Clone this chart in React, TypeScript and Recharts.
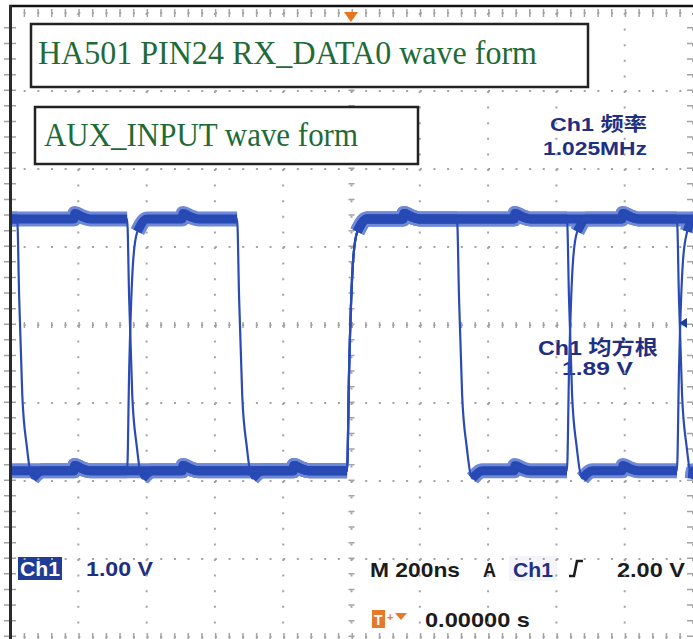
import { LineChart, Line, XAxis, YAxis, CartesianGrid, ReferenceLine } from 'recharts'

// screen: 200 ns/div over 10 divisions, 1 V/div over 8 divisions (0 = screen centre)
const timeTicks = [-1000, -800, -600, -400, -200, 0, 200, 400, 600, 800, 1000]
const voltTicks = [-4, -3, -2, -1, 0, 1, 2, 3, 4]

// logic levels (V from screen centre)
const highLevel = 1.36
const lowLevel = -1.87

// bit boundaries (ns) where the line may switch, and crosstalk bumps mid-bit
const edgeTimes = [-979, -657, -335, -13, 309, 631, 953]
const bumpTimes = [-810, -493, -168, 154, 479, 795]

// three acquisitions left on screen by persistence, one bit per gap
const sweepA = [1, 0, 1, 0, 1, 0, 1, 0]
const sweepB = [1, 1, 0, 0, 1, 1, 0, 1]
const sweepC = [0, 0, 0, 0, 1, 1, 1, 1]

// edge shapes: [ns after the boundary, share of the swing]
const riseShape = [[0, 0], [6, 0.4], [18, 0.84], [30, 0.95], [58, 1]]
const fallShape = [[0, 1], [6, 0.68], [15, 0.3], [28, 0.1], [45, -0.03], [75, 0]]
// bump shape: [ns around the bump, volts added]
const bumpShape = [[-3, 0], [0, 0.07], [20, 0.03], [45, 0]]

interface TracePoint {
  t: number
  v: number
  band: number | null
}

function buildSweep(bits: number[]): TracePoint[] {
  const swing = highLevel - lowLevel
  const level = (b: number) => lowLevel + b * swing
  const pts: TracePoint[] = []
  const first = level(bits[0])
  const last = level(bits[bits.length - 1])
  pts.push({ t: -1000, v: first, band: first })

  edgeTimes.forEach((e, i) => {
    if (bits[i] === bits[i + 1]) return
    const shape = bits[i + 1] > bits[i] ? riseShape : fallShape
    shape.forEach(([dt, share]) => {
      const v = lowLevel + share * swing
      const flat = share <= 0.05 || share >= 0.95
      pts.push({ t: e + dt, v, band: flat ? v : null })
    })
  })

  bumpTimes.forEach((b) => {
    const idx = edgeTimes.filter((e) => e < b).length
    const base = level(bits[idx])
    bumpShape.forEach(([dt, dv]) => {
      pts.push({ t: b + dt, v: base + dv, band: base + dv })
    })
  })

  pts.push({ t: 1000, v: last, band: last })
  return pts.sort((a, b) => a.t - b.t)
}

const sweeps = [sweepA, sweepB, sweepC].map(buildSweep)

const navy = '#1f2f82'
const ink = '#1c1c1c'
const sans = "'Liberation Sans', Arial, 'Noto Sans CJK SC', sans-serif"
const cjk = "'Liberation Sans', 'Noto Sans CJK SC', sans-serif"
const serif = "'Liberation Serif', 'Times New Roman', serif"
const boxGreen = '#1f6b37'

function Readouts() {
  return (
    <svg width={693} height={639} style={{ position: 'absolute', left: 0, top: 0, zIndex: 0 }}>
      <text x={550} y={131} fontFamily={cjk} fontWeight={700} fontSize={19} fill={navy} textLength={97} lengthAdjust="spacingAndGlyphs">
        Ch1 频率
      </text>
      <text x={543} y={155} fontFamily={sans} fontWeight={700} fontSize={19} fill={navy} textLength={104} lengthAdjust="spacingAndGlyphs">
        1.025MHz
      </text>
      <text x={538} y={355} fontFamily={cjk} fontWeight={700} fontSize={20} fill={navy} textLength={120} lengthAdjust="spacingAndGlyphs">
        Ch1 均方根
      </text>
      <text x={562} y={375} fontFamily={sans} fontWeight={700} fontSize={19} fill={navy} textLength={71} lengthAdjust="spacingAndGlyphs">
        1.89 V
      </text>

      <rect x={18} y={557} width={44} height={23} fill="#1f3c96" />
      <text x={20} y={576} fontFamily={sans} fontWeight={700} fontSize={21} fill="#ffffff" textLength={40} lengthAdjust="spacingAndGlyphs">
        Ch1
      </text>
      <text x={86} y={576} fontFamily={sans} fontWeight={700} fontSize={21} fill={navy} textLength={67} lengthAdjust="spacingAndGlyphs">
        1.00 V
      </text>

      <text x={370} y={577} fontFamily={sans} fontWeight={700} fontSize={21} fill={ink} textLength={90} lengthAdjust="spacingAndGlyphs">
        M 200ns
      </text>
      <text x={483} y={577} fontFamily={sans} fontWeight={700} fontSize={21} fill={ink} textLength={13} lengthAdjust="spacingAndGlyphs">
        A
      </text>
      <rect x={509} y={556} width={48} height={25} fill="#f4f4fa" />
      <text x={513} y={577} fontFamily={sans} fontWeight={700} fontSize={21} fill={navy} textLength={40} lengthAdjust="spacingAndGlyphs">
        Ch1
      </text>
      <polyline points="569,576 574,576 577,561 583,561" fill="none" stroke={ink} strokeWidth={2.6} />
      <text x={617} y={577} fontFamily={sans} fontWeight={700} fontSize={21} fill={ink} textLength={68} lengthAdjust="spacingAndGlyphs">
        2.00 V
      </text>

      <rect x={372} y={610} width={13} height={18} fill="#e8782a" />
      <text x={374} y={625} fontFamily={sans} fontWeight={700} fontSize={14} fill="#ffffff">
        T
      </text>
      <text x={387} y={621} fontFamily={sans} fontWeight={700} fontSize={11} fill="#e8782a">
        +
      </text>
      <polygon points="395,613 407,613 401,620" fill="#e8782a" />
      <text x={425} y={627} fontFamily={sans} fontWeight={700} fontSize={21} fill={ink} textLength={105} lengthAdjust="spacingAndGlyphs">
        0.00000 s
      </text>
    </svg>
  )
}

function Overlay() {
  return (
    <svg width={693} height={639} style={{ position: 'absolute', left: 0, top: 0, zIndex: 2, pointerEvents: 'none' }}>
      <line x1={9} y1={6} x2={693} y2={6} stroke="#111" strokeWidth={2.5} />
      <line x1={10.5} y1={5} x2={10.5} y2={639} stroke="#2a2a2a" strokeWidth={3} />
      <polygon points="344,12 358,12 351,22" fill="#e8741c" />
      <polygon points="679,323 687,318 687,328" fill="#1f3c96" />

      <rect x={31} y={24} width={557} height={63} fill="#ffffff" stroke="#222" strokeWidth={2.5} />
      <text x={38} y={64} fontFamily={serif} fontSize={34} fill={boxGreen} textLength={499} lengthAdjust="spacingAndGlyphs">
        HA501 PIN24 RX_DATA0 wave form
      </text>
      <rect x={35} y={107} width={383} height={57} fill="#ffffff" stroke="#222" strokeWidth={2.5} />
      <text x={44} y={146} fontFamily={serif} fontSize={34} fill={boxGreen} textLength={314} lengthAdjust="spacingAndGlyphs">
        AUX_INPUT wave form
      </text>
    </svg>
  )
}

export default function App() {
  const gridColor = '#a3a3a3'
  return (
    <div style={{ position: 'absolute', left: 0, top: 0, width: 693, height: 639, background: '#ffffff', overflow: 'hidden' }}>
      <Readouts />
      <div style={{ position: 'absolute', left: 0, top: 0, zIndex: 1 }}>
        <LineChart width={693} height={639} margin={{ top: 13, right: 0, bottom: 2, left: 10 }}>
          <CartesianGrid horizontal vertical={false} stroke={gridColor} strokeWidth={2} strokeDasharray="2 11.66" />
          <CartesianGrid horizontal={false} vertical stroke={gridColor} strokeWidth={2} strokeDasharray="2 13.6" />
          <XAxis dataKey="t" type="number" domain={[-1000, 1000]} ticks={timeTicks} allowDataOverflow hide />
          <YAxis type="number" domain={[-4, 4]} ticks={voltTicks} allowDataOverflow hide />

          <ReferenceLine y={0} stroke={gridColor} strokeWidth={6} strokeDasharray="1.5 12.16" />
          <ReferenceLine x={0} stroke={gridColor} strokeWidth={6} strokeDasharray="1.5 14.1" />
          <ReferenceLine y={4} stroke={gridColor} strokeWidth={8} strokeDasharray="1.5 12.16" />
          <ReferenceLine y={-4} stroke={gridColor} strokeWidth={8} strokeDasharray="1.5 12.16" />
          <ReferenceLine x={-1000} stroke={gridColor} strokeWidth={12} strokeDasharray="1.5 14.1" />
          <ReferenceLine x={1000} stroke={gridColor} strokeWidth={12} strokeDasharray="1.5 14.1" />

          {sweeps.map((s, i) => (
            <Line
              key={`halo${i}`}
              data={s}
              dataKey="band"
              type="monotone"
              stroke="#6f89d6"
              strokeWidth={15}
              dot={false}
              activeDot={false}
              connectNulls={false}
              isAnimationActive={false}
            />
          ))}
          {sweeps.map((s, i) => (
            <Line
              key={`core${i}`}
              data={s}
              dataKey="band"
              type="monotone"
              stroke="#2749b3"
              strokeWidth={9}
              dot={false}
              activeDot={false}
              connectNulls={false}
              isAnimationActive={false}
            />
          ))}
          {sweeps.map((s, i) => (
            <Line
              key={`trace${i}`}
              data={s}
              dataKey="v"
              type="monotone"
              stroke="#2a4bb6"
              strokeWidth={2.2}
              dot={false}
              activeDot={false}
              isAnimationActive={false}
            />
          ))}
        </LineChart>
      </div>
      <Overlay />
    </div>
  )
}
